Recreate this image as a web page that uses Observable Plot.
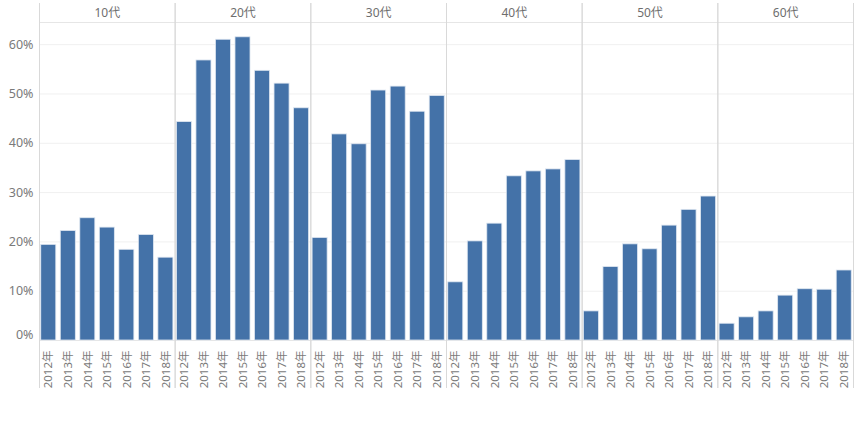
<!DOCTYPE html>
<html>
<head>
<meta charset="utf-8">
<script src="https://cdn.jsdelivr.net/npm/d3@7"></script>
<script src="https://cdn.jsdelivr.net/npm/@observablehq/plot@0.6"></script>
<style>
  html, body { margin: 0; padding: 0; background: #fff; }
  #chart { width: 865px; height: 424px; }
  #chart svg text { font-size: 11.5px !important; fill: #7a7a7a; }
  #chart svg g[aria-label="fx-axis tick label"] text, #chart svg g[aria-label="fx-axis"] text { font-size: 12px !important; fill: #6e6e6e; }
  #chart svg g[aria-label="text"] text { font-size: 12.5px !important; }
</style>
</head>
<body>
<div id="chart"></div>
<script>
const ages = ["10代", "20代", "30代", "40代", "50代", "60代"];
const years = ["2012年", "2013年", "2014年", "2015年", "2016年", "2017年", "2018年"];
const v10 = [0.194, 0.222, 0.248, 0.229, 0.184, 0.214, 0.168];
const v20 = [0.443, 0.568, 0.610, 0.615, 0.547, 0.521, 0.471];
const v30 = [0.208, 0.418, 0.398, 0.507, 0.515, 0.464, 0.496];
const v40 = [0.118, 0.201, 0.237, 0.333, 0.343, 0.347, 0.366];
const v50 = [0.059, 0.149, 0.195, 0.185, 0.233, 0.265, 0.292];
const v60 = [0.034, 0.047, 0.059, 0.091, 0.104, 0.103, 0.142];
const yTicks = [0, 0.1, 0.2, 0.3, 0.4, 0.5, 0.6];

const series = [v10, v20, v30, v40, v50, v60];
const data = [];
ages.forEach((a, i) => years.forEach((y, j) => data.push({age: a, year: y, value: series[i][j]})));
const fmt = d => Math.round(d * 100) + "%";

const lineColor = "#d9d9d9";
const chart = Plot.plot({
  width: 865,
  height: 424,
  marginLeft: 39,
  marginRight: 12,
  marginTop: 22,
  marginBottom: 84,
  style: {fontFamily: "'Noto Sans', 'Noto Sans CJK JP', sans-serif", fontSize: "11px", color: "#7a7a7a", background: "#fff"},
  fx: {domain: ages, paddingInner: 0, paddingOuter: 0, round: false, axis: "top", label: null, tickSize: 0, tickPadding: 6},
  x: {domain: years, paddingInner: 0.23, paddingOuter: 0.09, round: false, label: null, tickSize: 0, tickPadding: 10, tickRotate: -90},
  y: {domain: [0, 0.645], axis: null, label: null},
  marks: [
    Plot.ruleY(yTicks.slice(1), {stroke: "#f0f0f0"}),
    Plot.ruleY([0], {stroke: "#e6e6e6"}),
    Plot.frame({anchor: "top", stroke: "#e6e6e6"}),
    Plot.frame({anchor: "left", stroke: lineColor, insetTop: -19, insetBottom: -47}),
    Plot.frame({anchor: "right", stroke: lineColor, insetTop: -19, insetBottom: -47}),
    Plot.barY(data, {fx: "age", x: "year", y: "value", fill: "#4472a8", stroke: "#dfe7f1", strokeWidth: 0.8}),
    Plot.text(yTicks.slice(1), {fx: () => ages[0], y: d => d, text: fmt, frameAnchor: "left", textAnchor: "end", dx: -6}),
    Plot.text(yTicks.slice(0, 1), {fx: () => ages[0], y: d => d, text: fmt, frameAnchor: "left", textAnchor: "end", dx: -6, dy: -6})
  ]
});
document.getElementById("chart").appendChild(chart);
</script>
</body>
</html>
